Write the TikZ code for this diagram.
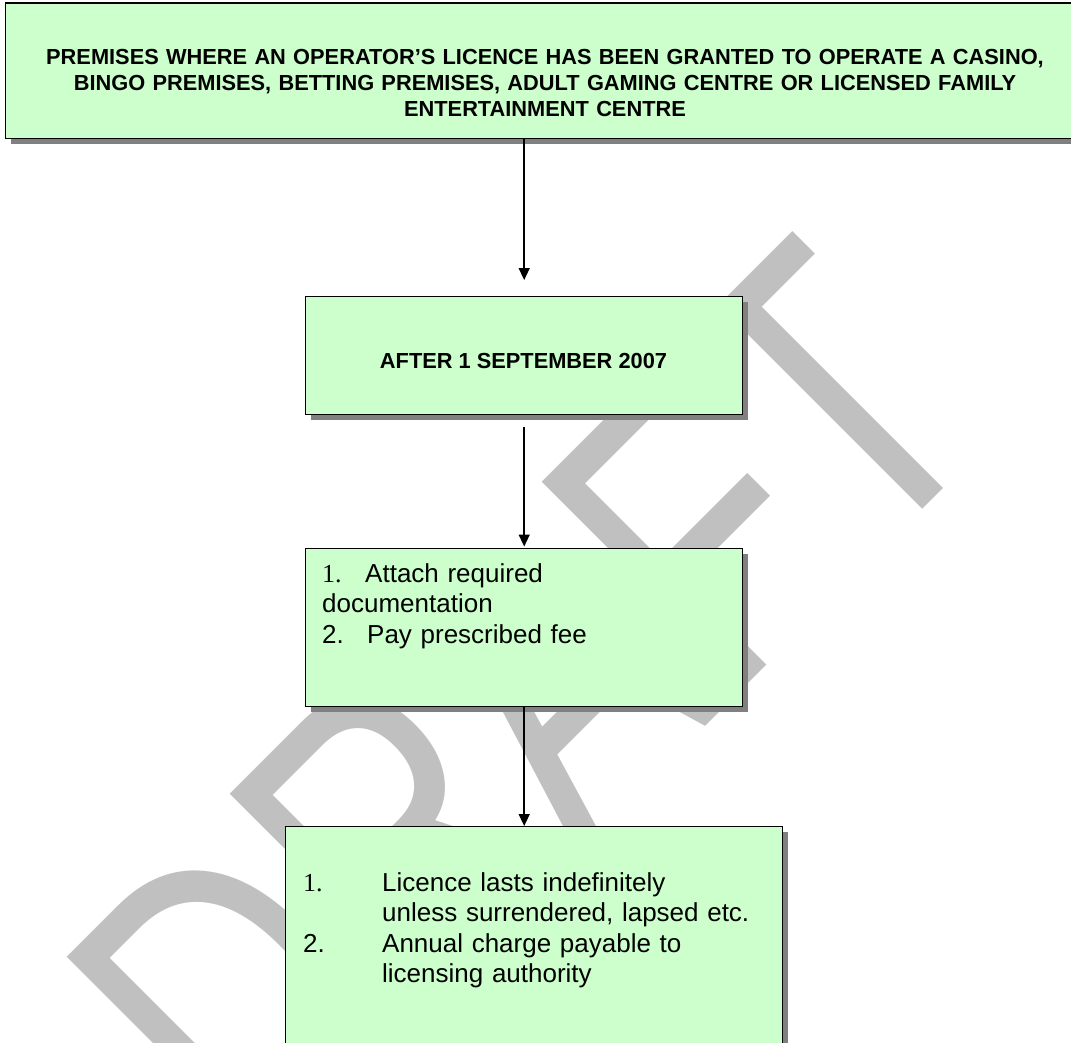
\documentclass[tikz,border=0pt]{standalone}
\usepackage{fontspec}
\setmainfont{Liberation Sans}
\newfontfamily\numfont{Liberation Serif}
\usetikzlibrary{arrows.meta,positioning,shadows}
\definecolor{boxgreen}{RGB}{204,255,204}
\definecolor{shadowgrey}{RGB}{128,128,128}
\definecolor{draftgrey}{RGB}{192,192,192}
\tikzset{
  flowbox/.style={rectangle, draw=black, line width=1.4pt, fill=boxgreen, inner sep=0pt, anchor=north west,
    drop shadow={shadow xshift=5pt, shadow yshift=-5pt, fill=shadowgrey, opacity=1}},
  headtext/.style={font=\fontsize{21.8}{26}\selectfont\bfseries, align=center, inner sep=0pt, anchor=base},
  listtext/.style={font=\fontsize{26}{30.5}\selectfont, align=left, text width=480pt, inner sep=0pt, anchor=base west},
  flowarrow/.style={line width=1.5pt, -{Triangle[width=11pt,length=12pt]}},
  watermark/.style={text=draftgrey, font=\fontsize{318}{318}\selectfont, inner sep=0pt, anchor=base west, rotate=45, yscale=1.3176}
}

\begin{document}
\begin{tikzpicture}[x=1pt,y=-1pt]
  \useasboundingbox (0,0) rectangle (1071,1043);
  % watermark behind the chart
  \node[watermark] (draft) at (252.7,1179.3) {DRAFT};

  \node[flowbox, minimum width=1080pt, minimum height=135.5pt] (premises) at (5,2.5) {};
  \node[flowbox, minimum width=437pt, minimum height=118pt] (after) at (305,296) {};
  \node[flowbox, minimum width=437pt, minimum height=158pt] (apply) at (305,548) {};
  \node[flowbox, minimum width=497pt, minimum height=240pt] (licence) at (285,826) {};

  \node[headtext, text width=1060pt] (premisestext) at (545,65)
    {PREMISES WHERE AN OPERATOR’S LICENCE HAS BEEN GRANTED TO OPERATE A CASINO,\\
     BINGO PREMISES, BETTING PREMISES, ADULT GAMING CENTRE OR LICENSED FAMILY\\
     ENTERTAINMENT CENTRE};
  \node[headtext] (aftertext) at (523.5,368) {AFTER 1 SEPTEMBER 2007};
  \node[listtext] (applytext) at (322,582)
    {\makebox[43pt][l]{\numfont 1.}Attach required\\
     documentation\\
     \makebox[45pt][l]{2.}Pay prescribed fee};
  \node[listtext] (licencetext) at (303,891)
    {\makebox[79pt][l]{\numfont 1.}Licence lasts indefinitely\\
     \hspace*{79pt}unless surrendered, lapsed etc.\\
     \makebox[79pt][l]{2.}Annual charge payable to\\
     \hspace*{79pt}licensing authority};

  \draw[flowarrow, shorten >=16pt] (after.north |- premises.south) -- (after.north);
  \draw[flowarrow, shorten <=12pt, shorten >=1.5pt] (after.south) -- (apply.north);
  \draw[flowarrow] (apply.south) -- (apply.south |- licence.north);
\end{tikzpicture}
\end{document}
